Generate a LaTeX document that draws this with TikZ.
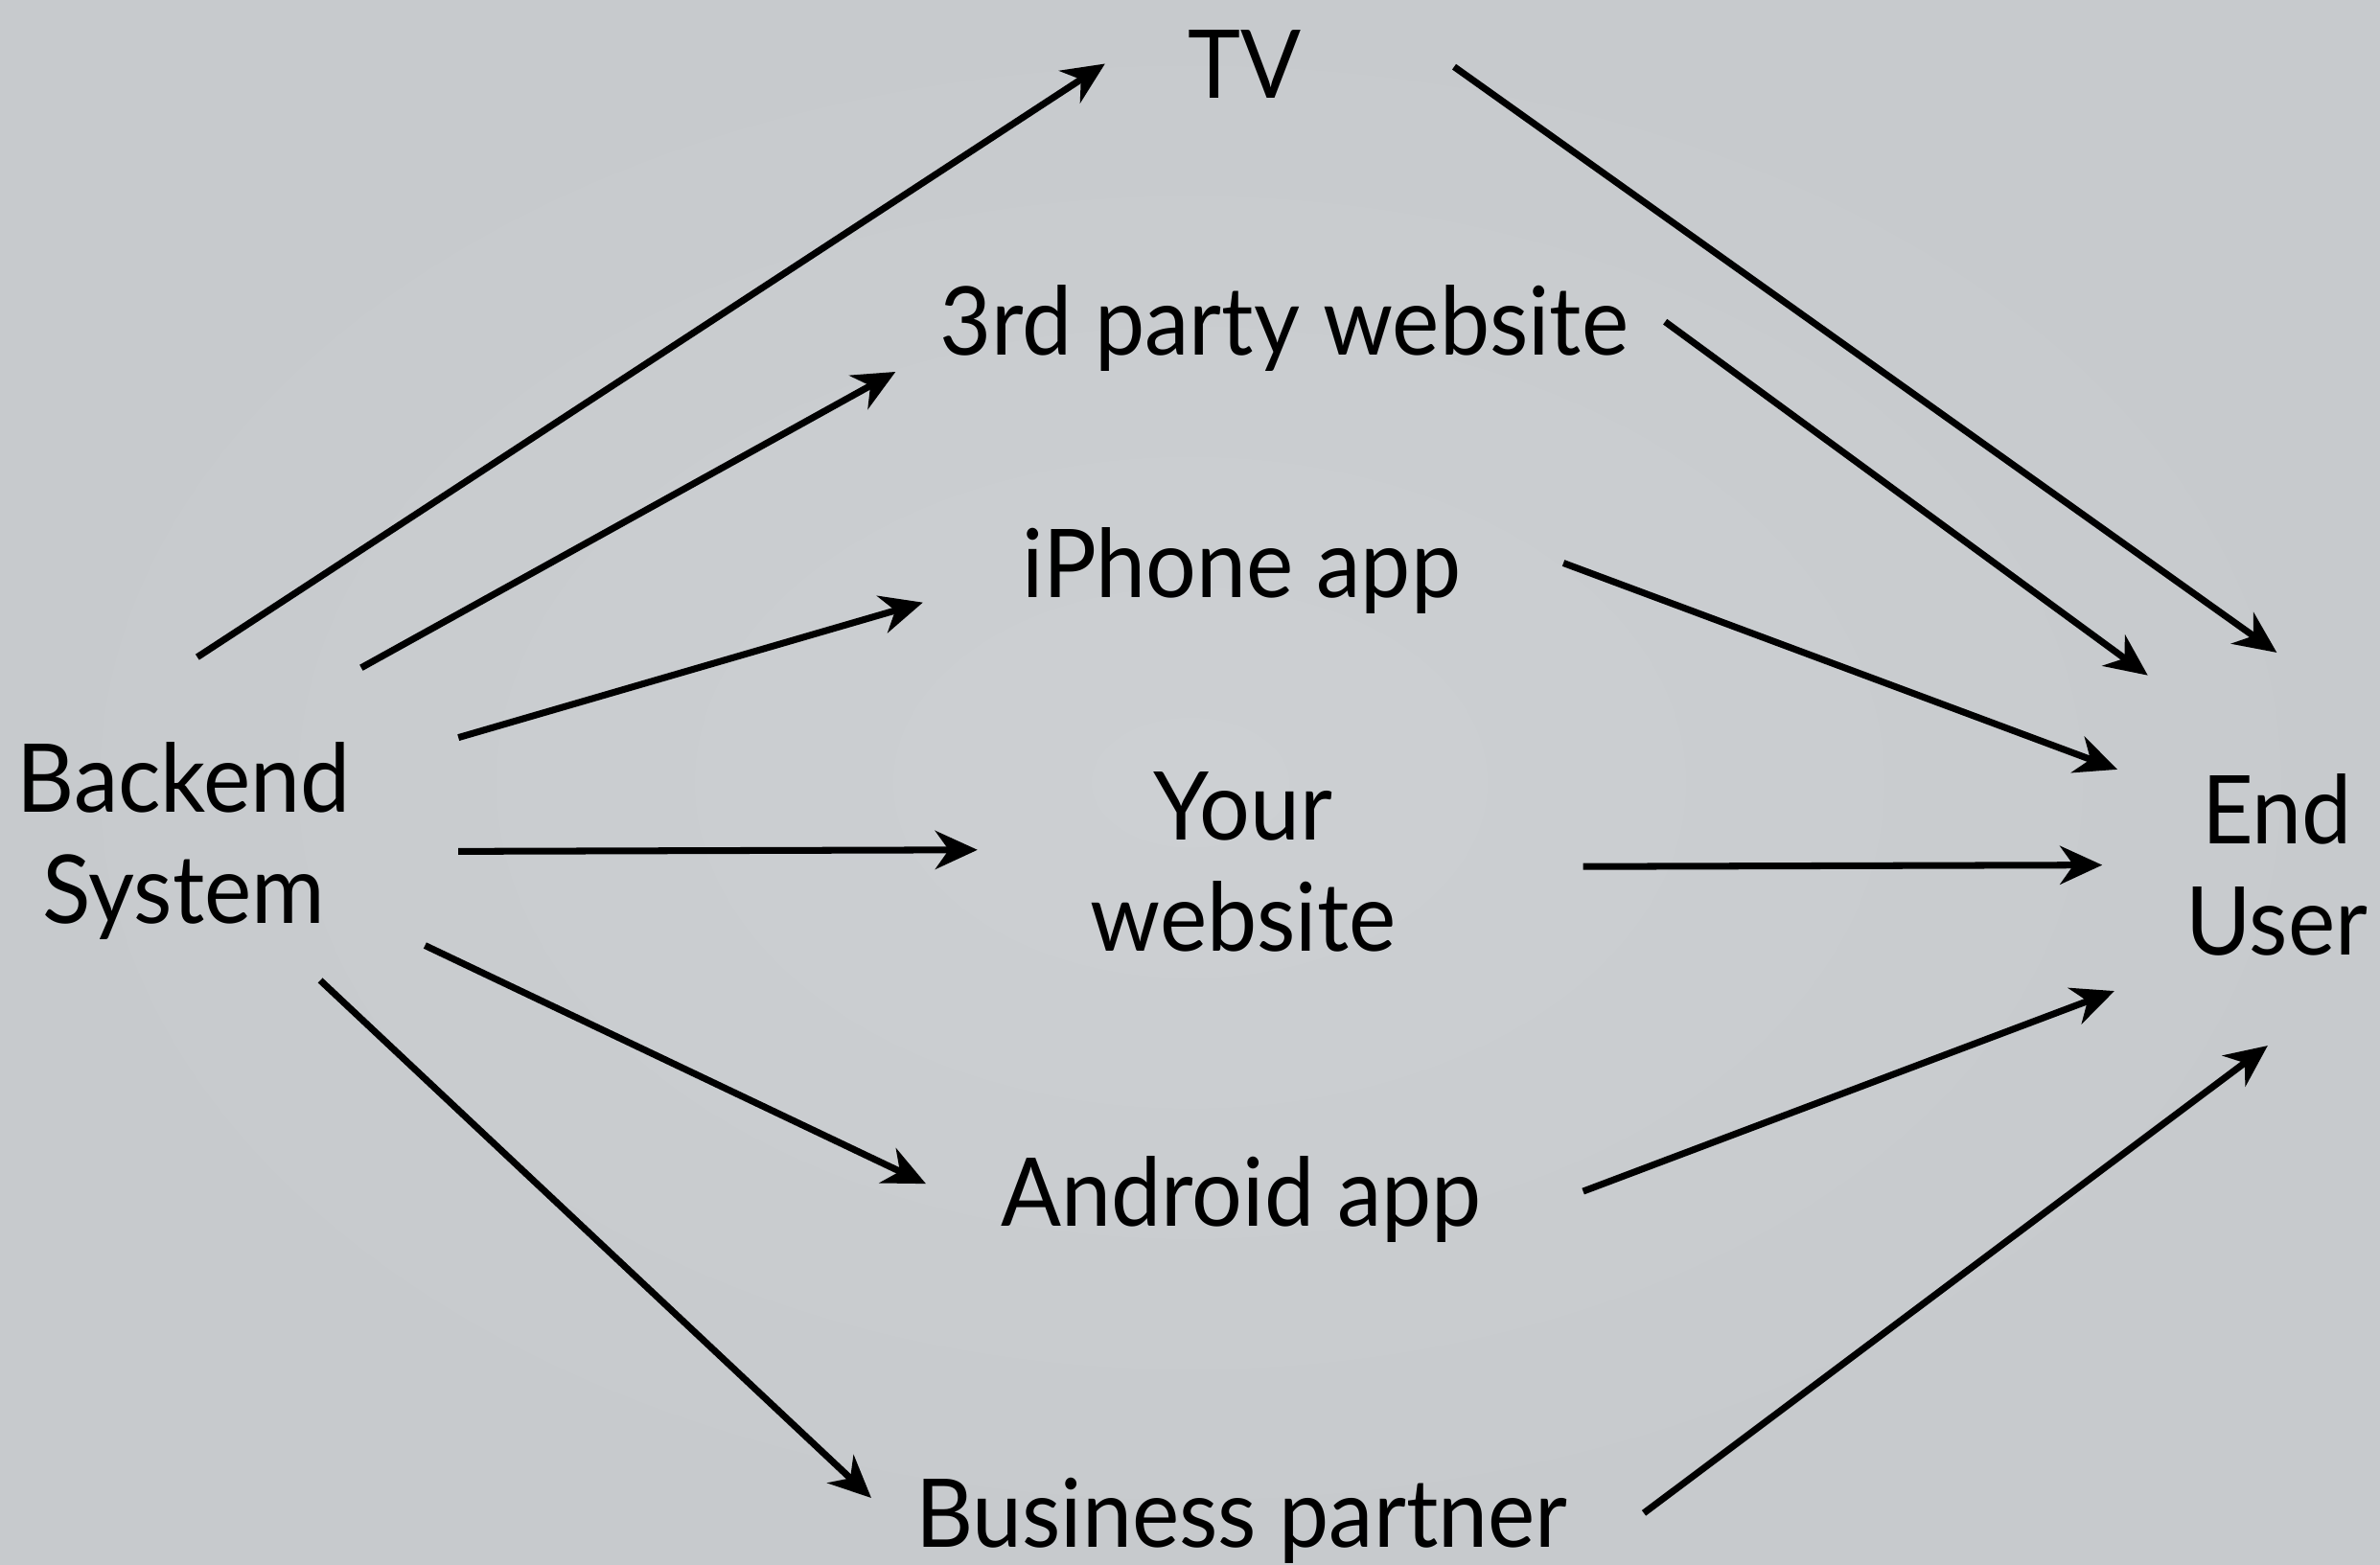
\documentclass[tikz,border=0pt]{standalone}
\usepackage{fontspec}
\setmainfont[FakeStretch=0.94]{Lato}
\usetikzlibrary{arrows.meta}
\definecolor{bgc}{RGB}{199,202,205}
\definecolor{bgin}{RGB}{205,208,211}
\begin{document}
\begin{tikzpicture}[x=0.015835cm,y=-0.015835cm,
  lbl/.style={font=\fontsize{28.2}{33}\selectfont, align=center, inner sep=0pt, text=black},
  conn/.style={-{Stealth[length=4.4mm,width=4mm,inset=1.4mm]}, line width=2pt, black}]
\fill[inner color=bgin, outer color=bgc] (0,0) rectangle (1568,1031);
\useasboundingbox (0,0) rectangle (1568,1031);
\node[lbl] (tv) at (820,42) {TV};
\node[lbl] (third) at (846,216) {3rd party website};
\node[lbl] (iphone) at (818,376) {iPhone app};
\node[lbl] (yours) at (819,568) {Your\\website};
\node[lbl] (android) at (818,790) {Android app};
\node[lbl] (business) at (818,1002) {Business partner};
\node[lbl] (backend) at (121,554) {Backend\\System};
\node[lbl] (user) at (1500,570) {End\\User};
% start/end coordinates
\coordinate (b1) at (130,433); \coordinate (t1) at (728,42);
\coordinate (b2) at (238,440); \coordinate (t2) at (590,245);
\coordinate (b3) at (302,486); \coordinate (t3) at (608,397);
\coordinate (b4) at (302,561); \coordinate (t4) at (644,560);
\coordinate (b5) at (280,623); \coordinate (t5) at (610,780);
\coordinate (b6) at (211,646); \coordinate (t6) at (574,987);
\coordinate (m1) at (958,44);  \coordinate (u1) at (1500,430);
\coordinate (m2) at (1097,212); \coordinate (u2) at (1415,445);
\coordinate (m3) at (1030,371); \coordinate (u3) at (1395,507);
\coordinate (m4) at (1043,571); \coordinate (u4) at (1385,570);
\coordinate (m5) at (1043,785); \coordinate (u5) at (1393,653);
\coordinate (m6) at (1083,997); \coordinate (u6) at (1494,689);
\foreach \i in {1,...,6} {
  \draw[conn] (b\i) -- (t\i);
  \draw[conn] (m\i) -- (u\i);
}
\end{tikzpicture}
\end{document}
